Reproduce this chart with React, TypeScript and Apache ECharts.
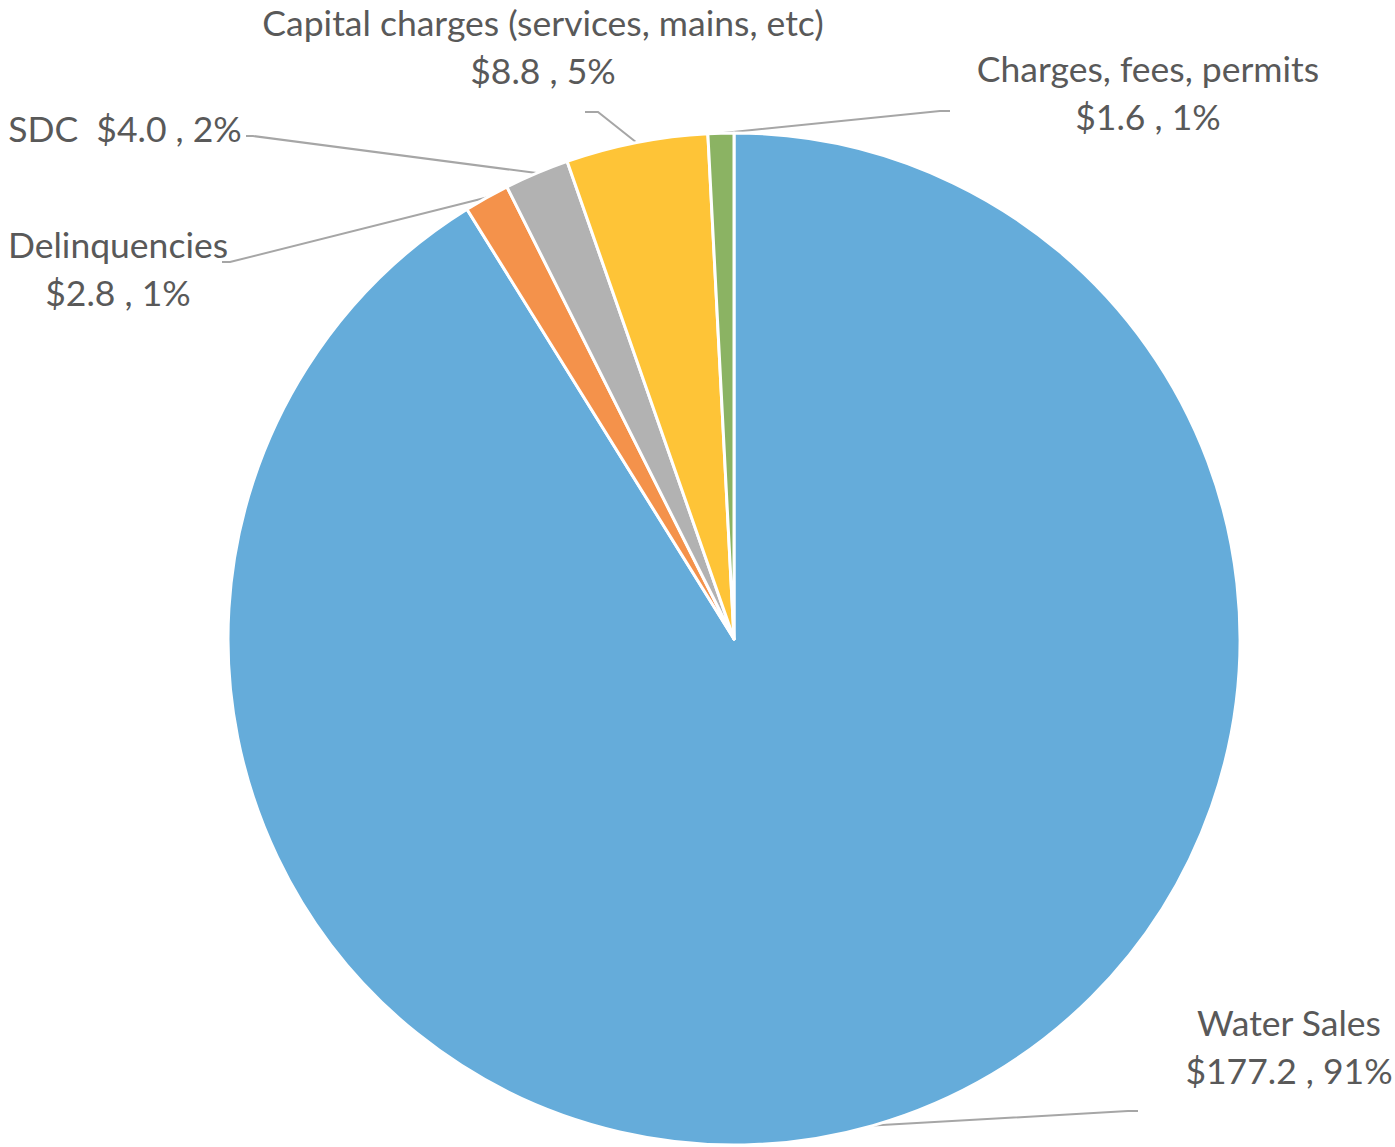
import React, { useEffect, useRef } from "react";
import * as echarts from "echarts";

const categories = ["Water Sales", "Delinquencies", "SDC", "Capital charges (services, mains, etc)", "Charges, fees, permits"];
const values = [177.2, 2.8, 4.0, 8.8, 1.6];
const colors = ["#65ACDA", "#F4924B", "#B2B2B2", "#FEC437", "#8BB363"];

// layout of labels (centre of the text block) and leader-line bends
const labelSep = ["\n", "\n", "  ", "\n", "\n"];
const labelPos = [[1289, 1046], [118, 268], [125, 128], [543, 46], [1148, 92]];
const lineBend = [[[1128, 1111], [1138, 1111]], [[230, 262], [222, 262]], [[253, 136], [246, 136]], [[598, 112], [585, 112]], [[940, 111], [950, 111]]];

const CX = 734;
const CY = 639;
const R = 506;

export default function App() {
  const ref = useRef<HTMLDivElement>(null);
  useEffect(() => {
    document.body.style.margin = "0";
    const chart = echarts.init(ref.current!, null, { renderer: "svg" });
    const total = values.reduce((a, b) => a + b, 0);
    const cum: number[] = [];
    let acc = 0;
    values.forEach((v) => { cum.push(acc + v / 2); acc += v; });
    chart.setOption({
      animation: false,
      series: [
        {
          type: "pie",
          center: [CX, CY],
          radius: R,
          startAngle: 90,
          clockwise: true,
          avoidLabelOverlap: false,
          data: categories.map((c, i) => ({ name: c, value: values[i], itemStyle: { color: colors[i] } })),
          itemStyle: { borderColor: "#fff", borderWidth: 3 },
          label: {
            show: true,
            position: "outside",
            fontFamily: "Lato",
            fontSize: 35.5,
            lineHeight: 48,
            color: "#595959",
            align: "center",
            formatter: (p: any) =>
              `${p.name}${labelSep[p.dataIndex]}$${p.value.toFixed(1)} , ${Math.round((p.value / total) * 100)}%`,
          },
          labelLine: { show: true, lineStyle: { color: "#A6A6A6", width: 2 } },
          labelLayout: (p: any) => {
            const i = p.dataIndex;
            const a = (cum[i] / total) * Math.PI * 2;
            const sx = CX + R * Math.sin(a);
            const sy = CY - R * Math.cos(a);
            return {
              x: labelPos[i][0],
              y: labelPos[i][1],
              align: "center",
              verticalAlign: "middle",
              labelLinePoints: [[sx, sy], lineBend[i][0], lineBend[i][1]],
            };
          },
        },
      ],
    });
    return () => chart.dispose();
  }, []);
  return <div ref={ref} style={{ width: 1395, height: 1147 }} />;
}
